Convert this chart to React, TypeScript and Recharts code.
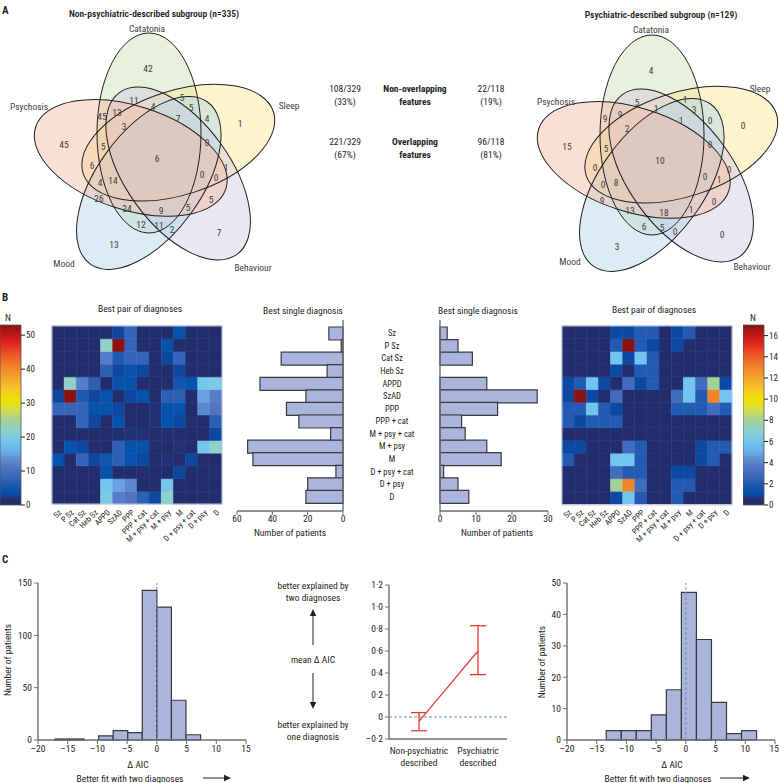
import React from "react";
import {
  BarChart, Bar, Cell, XAxis, YAxis, ScatterChart, Scatter, ComposedChart, Line,
  LineChart, ReferenceArea, ReferenceLine, ErrorBar,
} from "recharts";

const FONT = "'Liberation Sans Narrow', 'Roboto Condensed', 'DejaVu Sans Condensed', 'Liberation Sans', sans-serif";
const INK = "#231f20";
const AXIS_GREY = "#6d6e71";
const BAR_FILL = "#aab4dc";
const BAR_EDGE = "#3a3a3c";
const RED = "#e8392e";
const DASH = "#6e8fb0";

// ---------- A: Venn diagrams ----------
const SET_NAMES = ["Catatonia", "Sleep", "Behaviour", "Mood", "Psychosis"];
const SET_FILLS = ["#cddfb2", "#faE690", "#d2c7e4", "#afd5e8", "#f5b7a1"];
// region counts, same region order for both subgroups
const NONPSY_REGIONS = [42, 11, 5, 13, 45, 4, 5, 7, 4, 1, 45, 3, 5, 0, 6, 6, 1, 0, 0, 4, 14, 26, 24, 9, 5, 5, 12, 11, 2, 7, 13];
const PSY_REGIONS = [4, 5, 1, 9, 9, 1, 3, 1, 0, 0, 15, 2, 5, 0, 10, 0, 0, 0, 1, 0, 8, 9, 13, 18, 1, 0, 6, 5, 0, 0, 3];
// where each region's number sits, px from the Venn centre
const REGION_XY = [
  [-9, -90], [-23, -58], [25, -61], [-40, -46], [-55, -42], [-4, -52], [34, -51], [21, -40], [50, -40], [83, -35],
  [-93, -14], [-33, -32], [-54, -12], [50, -16], [0, 0], [-65, 7], [69, 9], [45, 16], [59, 19], [-57, 24],
  [-44, 22], [-58, 40], [-30, 50], [4, 52], [31, 49], [54, 41], [-16, 66], [2, 67], [15, 71], [62, 74], [-43, 86],
];
const NONPSY_NAME_XY = [[-10, -130], [132, -53], [96, 109], [-93, 105], [-128, -52]];
const PSY_NAME_XY = [[-9, -131], [100, -72], [92, 106], [-90, 101], [-104, -59]];
const ELLIPSE = { dx: -8, dy: -25, rx: 52, ry: 100 };

const OVERLAP_ROWS = [["Non-overlapping", "features"], ["Overlapping", "features"]];
const NONPSY_SPLIT = [["108/329", "(33%)"], ["221/329", "(67%)"]];
const PSY_SPLIT = [["22/118", "(19%)"], ["96/118", "(81%)"]];

// ---------- B ----------
const DIAGNOSES = ["Sz", "P Sz", "Cat Sz", "Heb Sz", "APPD", "SzAD", "PPP", "PPP + cat", "M + psy + cat", "M + psy", "M", "D + psy + cat", "D + psy", "D"];
const NONPSY_SINGLE = [8, 1, 35, 9, 47, 21, 32, 25, 7, 54, 51, 4, 20, 21];
const PSY_SINGLE = [2, 5, 9, 0, 13, 27, 16, 6, 7, 13, 17, 1, 5, 8];
const NONPSY_PAIRS = [
  [0, 0, 0, 0, 0, 3, 8, 0, 0, 0, 4, 0, 0, 0],
  [0, 0, 0, 0, 22, 53, 8, 0, 0, 4, 0, 0, 0, 0],
  [0, 0, 0, 0, 12, 6, 8, 8, 0, 3, 8, 0, 0, 0],
  [0, 0, 0, 0, 7, 3, 4, 3, 0, 0, 3, 0, 0, 0],
  [0, 22, 12, 7, 0, 4, 4, 0, 0, 0, 5, 4, 19, 20],
  [3, 53, 6, 3, 4, 0, 3, 4, 1, 7, 7, 0, 15, 12],
  [8, 8, 8, 4, 4, 3, 0, 0, 2, 4, 4, 0, 13, 11],
  [0, 0, 8, 3, 0, 4, 0, 0, 2, 4, 3, 1, 0, 7],
  [0, 0, 0, 0, 0, 1, 2, 2, 0, 1, 0, 0, 0, 3],
  [0, 4, 3, 0, 0, 7, 4, 4, 1, 0, 2, 0, 19, 22],
  [4, 0, 8, 3, 5, 7, 4, 3, 0, 2, 0, 3, 0, 0],
  [0, 0, 0, 0, 4, 0, 0, 1, 0, 0, 3, 0, 0, 0],
  [0, 0, 0, 0, 19, 15, 13, 0, 0, 19, 0, 0, 0, 0],
  [0, 0, 0, 0, 20, 12, 11, 7, 3, 22, 0, 0, 0, 0],
];
const PSY_PAIRS = [
  [0, 0, 0, 0, 1, 1, 2, 2, 0, 1, 2, 0, 0, 0],
  [0, 0, 0, 0, 2, 17, 2, 1, 0, 1, 0, 0, 0, 0],
  [0, 0, 0, 0, 6, 1, 6, 2, 0, 0, 0, 0, 0, 0],
  [0, 0, 0, 0, 1, 0, 2, 2, 0, 0, 0, 0, 0, 0],
  [1, 2, 6, 1, 0, 3, 1, 2, 0, 0, 6, 3, 8, 1],
  [1, 17, 1, 0, 3, 0, 0, 0, 0, 3, 6, 2, 13, 6],
  [2, 2, 6, 2, 1, 0, 0, 0, 0, 2, 2, 2, 3, 2],
  [2, 1, 2, 2, 2, 0, 0, 0, 0, 0, 0, 0, 0, 0],
  [0, 0, 0, 0, 0, 0, 0, 0, 0, 0, 0, 0, 0, 0],
  [1, 1, 0, 0, 0, 3, 2, 0, 0, 0, 0, 1, 2, 2],
  [2, 0, 0, 0, 6, 6, 2, 0, 0, 0, 0, 1, 2, 0],
  [0, 0, 0, 0, 3, 2, 2, 0, 0, 1, 1, 0, 0, 0],
  [0, 0, 0, 0, 8, 13, 3, 0, 0, 2, 2, 0, 0, 0],
  [0, 0, 0, 0, 1, 6, 2, 0, 0, 2, 0, 0, 0, 0],
];
const NONPSY_N_MAX = 53;
const PSY_N_MAX = 17;
const NONPSY_N_TICKS = [0, 10, 20, 30, 40, 50];
const PSY_N_TICKS = [0, 2, 4, 6, 8, 10, 12, 14, 16];

// colormap stops (fraction of max, colour)
const CMAP: [number, string][] = [
  [0, "#212d6c"], [0.035, "#23306f"], [0.05, "#1a3f98"], [0.065, "#0050aa"], [0.1, "#1656ae"],
  [0.13, "#2a5fb3"], [0.17, "#3f6abc"], [0.21, "#5274c2"], [0.26, "#6290d4"], [0.3, "#6cb0e8"],
  [0.35, "#70c4f0"], [0.41, "#8ed0d0"], [0.47, "#a4d196"], [0.53, "#d3dc4c"], [0.58, "#eee400"],
  [0.65, "#f8c22a"], [0.76, "#f2882a"], [0.85, "#ec4a24"], [0.91, "#dc1e1c"], [0.96, "#b01616"], [1, "#8c1212"],
];

// ---------- C ----------
const NONPSY_EDGES = [-17.15, -14.7, -12.25, -9.8, -7.35, -4.9, -2.45, 0, 2.45, 4.9, 7.35];
const NONPSY_HIST = [1, 1, 0, 4, 9, 7, 143, 127, 38, 5];
const PSY_EDGES = [-13.4, -10.87, -8.34, -5.81, -3.28, -0.75, 1.78, 4.31, 6.84, 9.37, 11.9];
const PSY_HIST = [3, 3, 3, 8, 16, 47, 32, 12, 2, 3];
const AIC_TICKS = [-20, -15, -10, -5, 0, 5, 10, 15];
const GROUPS = ["Non-psychiatric described", "Psychiatric described"];
const MEAN_DAIC = [-0.04, 0.6];
const CI_LOW = [-0.125, 0.385];
const CI_HIGH = [0.04, 0.83];
const MEAN_TICKS = [-0.2, 0, 0.2, 0.4, 0.6, 0.8, 1.0, 1.2];

const hex = (h: string) => [1, 3, 5].map((i) => parseInt(h.slice(i, i + 2), 16));
function cmap(t: number) {
  const v = Math.max(0, Math.min(1, t));
  for (let i = 1; i < CMAP.length; i++) {
    if (v <= CMAP[i][0]) {
      const [t0, c0] = CMAP[i - 1];
      const [t1, c1] = CMAP[i];
      const f = (v - t0) / (t1 - t0);
      const a = hex(c0), b = hex(c1);
      return `rgb(${a.map((x, k) => Math.round(x + (b[k] - x) * f)).join(",")})`;
    }
  }
  return CMAP[CMAP.length - 1][1];
}
const dashMinus = (v: number) => (v < 0 ? "–" + Math.abs(v) : String(v));
const lancet = (v: number) => (Math.abs(v) < 1e-9 ? "0" : (v < 0 ? "–" : "") + Math.abs(v).toFixed(1).replace(".", "·"));

const abs = (left: number, top: number): React.CSSProperties => ({ position: "absolute", left, top });

// ---------- Venn ----------
const VennShapes = ({ cx, cy }: any) => (
  <g transform={`translate(${cx},${cy})`}>
    {SET_FILLS.map((f, i) => (
      <ellipse key={"f" + i} cx={ELLIPSE.dx} cy={ELLIPSE.dy} rx={ELLIPSE.rx} ry={ELLIPSE.ry}
        transform={`rotate(${72 * i})`} fill={f} fillOpacity={0.45} />
    ))}
    {SET_FILLS.map((f, i) => (
      <ellipse key={"s" + i} cx={ELLIPSE.dx} cy={ELLIPSE.dy} rx={ELLIPSE.rx} ry={ELLIPSE.ry}
        transform={`rotate(${72 * i})`} fill="none" stroke={INK} strokeWidth={1} />
    ))}
  </g>
);

function Venn({ left, top, counts, nameXY }: { left: number; top: number; counts: number[]; nameXY: number[][] }) {
  const regions = REGION_XY.map(([x, y], i) => ({ x, y, label: String(counts[i]) }));
  const names = SET_NAMES.map((label, i) => ({ x: nameXY[i][0], y: nameXY[i][1], label }));
  const txt = (p: any) => (
    <text x={p.cx} y={p.cy} textAnchor="middle" dominantBaseline="central" fontSize={9.5} fill="#414042">
      {p.payload.label}
    </text>
  );
  return (
    <div style={abs(left, top)}>
      <ScatterChart width={300} height={280} margin={{ top: 0, right: 0, bottom: 0, left: 0 }}>
        <XAxis type="number" dataKey="x" domain={[-150, 150]} hide />
        <YAxis type="number" dataKey="y" domain={[-150, 130]} reversed hide />
        <Scatter data={[{ x: 0, y: 0 }]} shape={(p: any) => <VennShapes cx={p.cx} cy={p.cy} />} isAnimationActive={false} />
        <Scatter data={regions} shape={txt} isAnimationActive={false} />
        <Scatter data={names} shape={txt} isAnimationActive={false} />
      </ScatterChart>
    </div>
  );
}

// ---------- Heatmap ----------
const DiagTick = ({ x, y, payload }: any) => (
  <text x={x + 4} y={y + 7} transform={`rotate(-45, ${x + 4}, ${y + 7})`} textAnchor="end" fontSize={8} fill={INK}>
    {payload.value}
  </text>
);

function Heatmap({ left, top, matrix, vmax }: { left: number; top: number; matrix: number[][]; vmax: number }) {
  const data = DIAGNOSES.map((name) => {
    const row: any = { name };
    matrix.forEach((_, r) => (row["r" + r] = 1));
    return row;
  });
  const order = matrix.map((_, r) => matrix.length - 1 - r); // bottom row first
  return (
    <div style={abs(left, top)}>
      <BarChart width={190} height={264} data={data} barCategoryGap={0} margin={{ top: 6, right: 8, bottom: 44, left: 12 }}>
        <XAxis dataKey="name" interval={0} height={36} axisLine={false} tickLine={false} tickSize={0} tick={<DiagTick />} />
        <YAxis hide domain={[0, matrix.length]} />
        {order.map((r) => (
          <Bar key={r} dataKey={"r" + r} stackId="h" isAnimationActive={false}>
            {matrix[r].map((v, c) => {
              const col = cmap(v / vmax);
              return <Cell key={c} fill={col} stroke={col} strokeWidth={0.6} />;
            })}
          </Bar>
        ))}
      </BarChart>
    </div>
  );
}

function ColourBar({ left, top, vmax, ticks, id }: { left: number; top: number; vmax: number; ticks: number[]; id: string }) {
  return (
    <div style={abs(left, top)}>
      <BarChart width={48} height={195} data={[{ k: "N", v: vmax }]} barCategoryGap={0} margin={{ top: 5, right: 0, bottom: 10, left: 0 }}>
        <defs>
          <linearGradient id={id} x1="0" y1="1" x2="0" y2="0">
            {CMAP.map(([t, c]) => <stop key={t} offset={t} stopColor={c} />)}
          </linearGradient>
        </defs>
        <XAxis dataKey="k" hide />
        <YAxis orientation="right" width={27} domain={[0, vmax]} ticks={ticks} axisLine={false}
          tickLine={{ stroke: INK }} tickSize={4} tickMargin={1} tick={{ fontSize: 9, fill: INK }} />
        <Bar dataKey="v" fill={`url(#${id})`} stroke="#555" strokeWidth={0.8} isAnimationActive={false} />
      </BarChart>
    </div>
  );
}

// ---------- single diagnosis bars ----------
const MiddleTick = ({ x, y, payload }: any) => (
  <text x={x + 49} y={y} textAnchor="middle" dominantBaseline="central" fontSize={8.5} fill={INK}>
    {payload.value}
  </text>
);
const singleData = DIAGNOSES.map((name, i) => ({ name, nonpsy: NONPSY_SINGLE[i], psy: PSY_SINGLE[i] }));
const axisStyle = { stroke: AXIS_GREY, strokeWidth: 1.4 };

// ---------- histograms ----------
function Histogram({ left, width, yAxisWidth, right, edges, counts, yMax, yTicks }: any) {
  const bins = counts.map((n: number, i: number) => ({ x0: edges[i], x1: edges[i + 1], mid: (edges[i] + edges[i + 1]) / 2, n }));
  return (
    <div style={abs(left, 570)}>
      <ComposedChart width={width} height={200} data={bins} margin={{ top: 13, right, bottom: 10, left: 0 }}>
        <XAxis type="number" dataKey="mid" domain={[-20, 15]} ticks={AIC_TICKS} tickFormatter={dashMinus} height={20}
          axisLine={axisStyle} tickLine={{ stroke: AXIS_GREY }} tickSize={4} tickMargin={1} tick={{ fontSize: 9.5, fill: INK }} />
        <YAxis width={yAxisWidth} domain={[0, yMax]} ticks={yTicks} axisLine={axisStyle} tickLine={{ stroke: AXIS_GREY }}
          tickSize={4} tickMargin={2} tick={{ fontSize: 9.5, fill: INK }} />
        {bins.filter((b: any) => b.n > 0).map((b: any) => (
          <ReferenceArea key={b.x0} x1={b.x0} x2={b.x1} y1={0} y2={b.n} fill={BAR_FILL} fillOpacity={1}
            stroke={BAR_EDGE} strokeWidth={1.2} strokeOpacity={1} ifOverflow="visible" />
        ))}
        <ReferenceLine x={0} stroke={DASH} strokeDasharray="3 2" strokeWidth={1} />
        <Line dataKey="n" stroke="none" dot={false} isAnimationActive={false} />
      </ComposedChart>
    </div>
  );
}

const GroupTick = ({ x, y, payload }: any) => {
  const [a, b] = String(payload.value).split(" ");
  return (
    <text x={x} y={y} textAnchor="middle" fontSize={9.5} fill={INK}>
      <tspan x={x} dy={9}>{a}</tspan>
      <tspan x={x} dy={12}>{b}</tspan>
    </text>
  );
};
const meanData = GROUPS.map((group, i) => ({
  group, mean: MEAN_DAIC[i], err: [MEAN_DAIC[i] - CI_LOW[i], CI_HIGH[i] - MEAN_DAIC[i]],
}));

// ---------- plain text ----------
const T = ({ x, y, s = 9.5, w = 400, a = "middle", children, rot }: any) => (
  <text x={x} y={y} fontSize={s} fontWeight={w} textAnchor={a} dominantBaseline="central" fill={INK}
    transform={rot ? `rotate(${rot}, ${x}, ${y})` : undefined}>{children}</text>
);
const ArrowH = ({ x1, x2, y }: any) => (
  <g>
    <line x1={x1} y1={y} x2={x2 - 6} y2={y} stroke={INK} strokeWidth={1} />
    <polygon points={`${x2},${y} ${x2 - 7},${y - 3.2} ${x2 - 7},${y + 3.2}`} fill={INK} />
  </g>
);
const ArrowV = ({ x, y1, y2 }: any) => {
  const d = y2 > y1 ? 1 : -1;
  return (
    <g>
      <line x1={x} y1={y1} x2={x} y2={y2 - d * 6} stroke={INK} strokeWidth={1} />
      <polygon points={`${x},${y2} ${x - 3.2},${y2 - d * 7} ${x + 3.2},${y2 - d * 7}`} fill={INK} />
    </g>
  );
};

export default function App() {
  return (
    <div style={{ position: "absolute", left: 0, top: 0, width: 779, height: 783, overflow: "hidden", background: "#fff", fontFamily: FONT, color: INK }}>
      <Venn left={7} top={8} counts={NONPSY_REGIONS} nameXY={NONPSY_NAME_XY} />
      <Venn left={510} top={10} counts={PSY_REGIONS} nameXY={PSY_NAME_XY} />

      <ColourBar left={0} top={320} vmax={NONPSY_N_MAX} ticks={NONPSY_N_TICKS} id="cbL" />
      <Heatmap left={40} top={320} matrix={NONPSY_PAIRS} vmax={NONPSY_N_MAX} />
      <Heatmap left={550} top={320} matrix={PSY_PAIRS} vmax={PSY_N_MAX} />
      <ColourBar left={743} top={320} vmax={PSY_N_MAX} ticks={PSY_N_TICKS} id="cbR" />

      <div style={abs(225, 315)}>
        <BarChart layout="vertical" width={218} height={216} data={singleData} barCategoryGap={0} margin={{ top: 5, right: 0, bottom: 0, left: 12 }}>
          <XAxis type="number" domain={[0, 60]} reversed ticks={[0, 20, 40, 60]} height={20} axisLine={axisStyle}
            tickLine={{ stroke: AXIS_GREY }} tickSize={4} tickMargin={0} tick={{ fontSize: 9.5, fill: INK }} />
          <YAxis type="category" dataKey="name" orientation="right" width={100} padding={{ top: 7, bottom: 8 }} interval={0}
            axisLine={axisStyle} tickLine={false} tickSize={0} tickMargin={0} tick={<MiddleTick />} />
          <Bar dataKey="nonpsy" fill={BAR_FILL} stroke={BAR_EDGE} strokeWidth={1.2} isAnimationActive={false} />
        </BarChart>
      </div>
      <div style={abs(428, 315)}>
        <BarChart layout="vertical" width={132} height={216} data={singleData} barCategoryGap={0} margin={{ top: 5, right: 12, bottom: 0, left: 0 }}>
          <XAxis type="number" domain={[0, 30]} ticks={[0, 10, 20, 30]} height={20} axisLine={axisStyle}
            tickLine={{ stroke: AXIS_GREY }} tickSize={4} tickMargin={0} tick={{ fontSize: 9.5, fill: INK }} />
          <YAxis type="category" dataKey="name" width={12} padding={{ top: 7, bottom: 8 }} axisLine={axisStyle} tick={false} tickLine={false} />
          <Bar dataKey="psy" fill={BAR_FILL} stroke={BAR_EDGE} strokeWidth={1.2} isAnimationActive={false} />
        </BarChart>
      </div>

      <Histogram left={0} width={260} yAxisWidth={38} right={14} edges={NONPSY_EDGES} counts={NONPSY_HIST} yMax={150} yTicks={[0, 50, 100, 150]} />
      <Histogram left={520} width={259} yAxisWidth={47} right={4} edges={PSY_EDGES} counts={PSY_HIST} yMax={50} yTicks={[0, 10, 20, 30, 40, 50]} />

      <div style={abs(340, 575)}>
        <LineChart width={180} height={200} data={meanData} margin={{ top: 10, right: 13, bottom: 10, left: 0 }}>
          <XAxis dataKey="group" height={26} interval={0} padding={{ left: 30, right: 29 }} axisLine={axisStyle}
            tickLine={false} tickSize={4} tickMargin={2} tick={<GroupTick />} />
          <YAxis width={49} domain={[-0.2, 1.2]} ticks={MEAN_TICKS} tickFormatter={lancet} axisLine={axisStyle}
            tickLine={{ stroke: AXIS_GREY }} tickSize={4} tickMargin={2} tick={{ fontSize: 9.5, fill: INK }} />
          <ReferenceLine y={0} stroke={DASH} strokeDasharray="3 2" />
          <Line dataKey="mean" stroke={RED} strokeWidth={1.2} dot={false} isAnimationActive={false}>
            <ErrorBar dataKey="err" direction="y" width={8} stroke={RED} strokeWidth={1.3} />
          </Line>
        </LineChart>
      </div>

      <svg width={779} height={783} style={{ position: "absolute", left: 0, top: 0, pointerEvents: "none" }}>
        <T x={2} y={10} s={11} w={700} a="start">A</T>
        <T x={154} y={13} w={600}>Non-psychiatric-described subgroup (n=335)</T>
        <T x={661} y={14} w={600}>Psychiatric-described subgroup (n=129)</T>
        {OVERLAP_ROWS.map((lines, i) => (
          <g key={i}>
            {lines.map((l, k) => <T key={"m" + k} x={415} y={88 + i * 53 + k * 13} w={700}>{l}</T>)}
            {NONPSY_SPLIT[i].map((l, k) => <T key={"l" + k} x={345} y={88 + i * 53 + k * 13}>{l}</T>)}
            {PSY_SPLIT[i].map((l, k) => <T key={"r" + k} x={491} y={88 + i * 53 + k * 13}>{l}</T>)}
          </g>
        ))}

        <T x={2} y={297} s={11} w={700} a="start">B</T>
        <T x={8} y={317}>N</T>
        <T x={753} y={317}>N</T>
        <T x={140} y={308}>Best pair of diagnoses</T>
        <T x={654} y={309}>Best pair of diagnoses</T>
        <T x={303} y={310}>Best single diagnosis</T>
        <T x={478} y={310}>Best single diagnosis</T>
        <T x={290} y={532}>Number of patients</T>
        <T x={497} y={532}>Number of patients</T>
        <rect x={52} y={326} width={170} height={178} fill="none" stroke="#c3cce6" strokeWidth={1} />
        <rect x={562} y={326} width={170} height={179} fill="none" stroke="#c3cce6" strokeWidth={1} />

        <T x={2} y={559} s={11} w={700} a="start">C</T>
        <T x={7} y={660} rot={-90}>Number of patients</T>
        <T x={541} y={662} rot={-90}>Number of patients</T>
        <T x={138} y={764}>Δ AIC</T>
        <T x={672} y={764}>Δ AIC</T>
        <T x={130} y={778}>Better fit with two diagnoses</T>
        <T x={658} y={778}>Better fit with two diagnoses</T>
        <ArrowH x1={203} x2={231} y={778} />
        <ArrowH x1={720} x2={750} y={778} />
        <T x={313} y={585}>better explained by</T>
        <T x={313} y={597}>two diagnoses</T>
        <ArrowV x={313} y1={645} y2={609} />
        <T x={313} y={659}>mean Δ AIC</T>
        <ArrowV x={313} y1={673} y2={709} />
        <T x={313} y={724}>better explained by</T>
        <T x={313} y={736}>one diagnosis</T>
      </svg>
    </div>
  );
}
